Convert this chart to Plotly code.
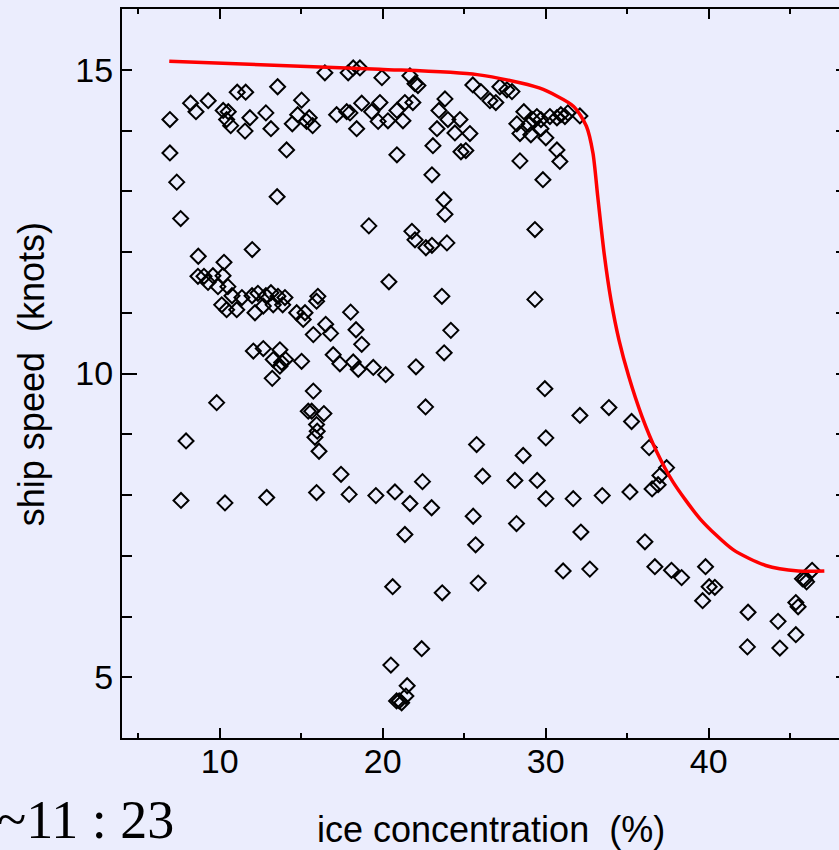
import plotly.graph_objects as go

# Observed ship speed vs. ice concentration
ice_pct = [
    6.94, 6.94, 7.36, 7.60, 8.21, 8.54, 9.29, 10.21, 10.52, 10.42, 10.67, 11.07, 11.59, 11.55,
    11.85, 12.83, 13.14, 13.55, 14.10, 13.52, 14.45, 14.78, 15.02, 15.33, 15.49, 15.70, 16.45,
    17.17, 17.79, 17.99, 17.88, 18.19, 18.60, 18.40, 18.71, 19.32, 19.72, 19.83, 19.95,
    8.68, 10.26, 11.99,
    10.12, 10.42, 11.04, 12.16, 12.67, 13.28, 13.86, 14.72, 15.23, 15.12, 15.94, 15.74, 16.50,
    16.80, 18.03, 18.36, 18.71, 12.06, 12.67, 13.69, 13.28, 13.80, 14.04, 13.69, 13.22, 15.02,
    16.96, 17.37, 18.19, 18.50, 19.42, 20.18, 15.74, 9.81, 15.64, 15.43, 16.39, 15.94, 15.98,
    15.84, 16.09, 7.93, 17.44, 7.62, 10.32, 12.88, 15.94, 17.94, 19.58, 20.75, 20.61,
    23.65, 25.86, 22.39, 20.50, 21.50, 21.42, 21.01, 21.16, 20.85,
    23.77, 22.04, 29.95, 22.63, 25.76, 30.01, 28.62, 32.10, 33.88, 35.27, 36.35, 37.42, 37.01,
    36.90, 36.53, 22.44, 21.67, 23.00, 26.13, 28.11, 29.48, 30.01, 31.69, 33.47, 35.17, 21.36,
    25.55, 28.21, 25.70, 32.16, 36.09, 31.07, 32.71, 36.70, 37.72, 38.34, 39.81, 40.03, 40.38,
    39.63, 42.42, 44.26, 45.35, 45.49, 45.35, 42.38, 44.37, 46.35, 45.90, 46.01, 45.76,
    21.67, 21.98, 22.16, 20.32, 20.87, 21.24, 21.36, 21.85, 23.33, 23.45, 23.82, 24.00, 24.43,
    24.74, 23.08, 24.80, 25.10, 25.35, 25.53, 26.02, 26.58, 26.94, 27.19, 27.62, 27.93, 28.23,
    28.42, 28.66, 28.97, 29.09, 29.21, 29.46, 29.71, 29.71, 30.01, 30.26, 30.69, 30.93, 31.18,
    31.36, 32.10, 30.69, 30.87, 29.83, 28.42,
    23.02, 23.75, 23.82, 23.94, 21.79, 21.98, 22.65, 23.02, 19.15, 20.38, 29.34, 29.34, 23.63,
    24.18, 20.87,
    8.66, 9.03, 9.28, 9.58, 9.89, 10.20, 10.50, 10.75, 11.36, 11.98, 12.34, 12.83, 13.14, 13.57,
    14.00, 16.02,
]
speed_kn = [
    14.18, 13.63, 13.15, 12.55, 14.45, 14.31, 14.49, 14.33, 14.31, 14.18, 14.08, 14.63, 14.63, 13.99,
    14.21, 14.29, 14.03, 14.72, 13.68, 12.91, 14.11, 14.26, 14.50, 14.15, 14.21, 14.08, 14.95,
    14.26, 14.31, 14.29, 14.95, 15.03, 15.03, 14.03, 14.45, 14.31, 14.15, 14.46, 14.87,
    11.93, 11.83, 12.04,
    11.13, 11.05, 11.05, 11.00, 11.11, 11.13, 11.13, 11.00, 11.00, 10.89, 11.19, 10.64, 10.81,
    10.66, 11.01, 10.72, 10.48, 10.37, 10.41, 10.39, 10.23, 10.18, 10.23, 10.12, 9.92, 10.20,
    10.31, 10.16, 10.19, 10.07, 10.10, 9.98, 9.71, 9.52, 9.38, 9.38, 9.34, 9.16, 9.05,
    8.95, 8.72, 8.89, 8.34, 7.91, 7.87, 7.96, 8.04, 8.01, 7.99, 8.05, 6.49,
    6.39, 6.55, 5.47, 5.20, 4.86, 4.69, 4.61, 4.58, 4.61,
    10.34, 10.11, 9.75, 9.45, 8.83, 8.94, 8.65, 9.31, 9.44, 9.21, 8.78, 8.45, 8.32,
    8.17, 8.10, 8.22, 7.86, 7.79, 8.31, 8.24, 8.24, 7.94, 7.94, 7.99, 8.05, 7.35,
    7.65, 7.53, 7.18, 7.39, 7.23, 6.75, 6.78, 6.82, 6.76, 6.64, 6.82, 6.49, 6.48,
    6.26, 6.07, 5.92, 6.23, 6.16, 5.70, 5.50, 5.48, 6.76, 6.61, 6.57, 6.62,
    14.90, 14.77, 14.74, 14.16, 14.33, 14.16, 14.46, 14.46, 14.03, 14.33, 14.52, 14.18, 13.96,
    14.18, 13.75, 13.65, 13.67, 13.95, 14.75, 14.64, 14.49, 14.46, 14.72, 14.67, 14.64, 14.11,
    13.95, 14.31, 14.10, 13.93, 14.18, 14.23, 14.18, 14.03, 13.88, 14.23, 14.21, 14.26, 14.23,
    14.29, 14.24, 13.68, 13.49, 13.19, 13.50,
    13.27, 12.86, 12.62, 12.15, 12.34, 12.20, 12.07, 12.11, 12.43, 11.51, 12.37, 11.22, 11.27,
    10.71, 13.60,
    11.60, 11.60, 11.50, 11.61, 11.43, 11.61, 11.43, 11.28, 11.25, 11.28, 11.32, 11.28, 11.33, 11.27,
    11.25, 11.27,
]

# Upper-envelope speed curve
curve_ice = [6.9, 19.8, 25.8, 29.6, 31.7, 32.5, 32.9, 33.2, 33.6, 34.0, 34.5, 35.1,
             35.9, 36.8, 37.8, 39.5, 41.5, 43.5, 45.5, 47.1]
curve_speed = [15.14, 15.01, 14.92, 14.70, 14.40, 14.07, 13.63, 12.90, 11.95, 11.22, 10.55,
               9.95, 9.30, 8.72, 8.22, 7.60, 7.10, 6.84, 6.75, 6.75]

x_range = [4, 48]
y_range = [4, 16]
x_labels = [10, 20, 30, 40]
y_labels = [5, 10, 15]

BG = "#ebedfd"
SANS = "Liberation Sans, Arial, sans-serif"

fig = go.Figure()
fig.add_trace(go.Scatter(
    x=ice_pct, y=speed_kn, mode="markers",
    marker=dict(symbol="diamond-open", size=11.5, color="black", line=dict(width=2, color="black")),
    showlegend=False, hoverinfo="skip",
))
fig.add_trace(go.Scatter(
    x=curve_ice, y=curve_speed, mode="lines",
    line=dict(color="#ff0000", width=3.5, shape="spline", smoothing=0.7),
    showlegend=False, hoverinfo="skip",
))
# helper traces to attach the extra tick axes
fig.add_trace(go.Scatter(x=[None], y=[None], yaxis="y2", showlegend=False))
fig.add_trace(go.Scatter(x=[None], y=[None], yaxis="y3", showlegend=False))

fig.update_layout(
    width=839, height=850,
    margin=dict(l=122, r=0, t=9, b=112),
    paper_bgcolor=BG, plot_bgcolor=BG,
    font=dict(family=SANS, color="black"),
    xaxis=dict(
        range=x_range, tickvals=x_labels, ticks="inside", ticklen=10, tickwidth=2,
        tickcolor="black", showline=True, linecolor="black", linewidth=2, mirror="ticks",
        showgrid=False, zeroline=False, tickfont=dict(size=34, family=SANS),
        ticklabelstandoff=-8,
        minor=dict(dtick=5, tick0=0, ticks="inside", ticklen=5, tickwidth=2, tickcolor="black",
                   showgrid=False),
    ),
    yaxis=dict(
        range=y_range, tickvals=y_labels, ticks="inside", ticklen=10, tickwidth=2,
        tickcolor="black", showline=True, linecolor="black", linewidth=2, mirror=False,
        showgrid=False, zeroline=False, tickfont=dict(size=34, family=SANS),
        minor=dict(dtick=1, tick0=0, ticks="inside", ticklen=10, tickwidth=2, tickcolor="black",
                   showgrid=False),
    ),
    yaxis2=dict(
        range=y_range, overlaying="y", side="right", tickvals=y_labels, ticks="inside",
        ticklen=3, tickwidth=2, tickcolor="black", showticklabels=False, showline=False,
        showgrid=False, zeroline=False,
        minor=dict(dtick=1, tick0=0, ticks="inside", ticklen=3, tickwidth=2, tickcolor="black",
                   showgrid=False),
    ),
    yaxis3=dict(
        range=y_range, overlaying="y", side="left", tickvals=[10], ticks="inside",
        ticklen=15, tickwidth=2, tickcolor="black", showticklabels=False, showline=False,
        showgrid=False, zeroline=False,
    ),
    annotations=[
        dict(text="ship speed  (knots)", xref="paper", yref="paper", x=-0.127, y=0.499,
             xanchor="center", yanchor="middle", textangle=-90, showarrow=False,
             font=dict(size=36, family=SANS)),
        dict(text="ice concentration  (%)", xref="paper", yref="paper", x=0.515, y=-0.126,
             xanchor="center", yanchor="middle", showarrow=False,
             font=dict(size=36, family=SANS)),
        dict(text="~11 : 23", xref="paper", yref="paper", x=0.075, y=-0.112,
             xanchor="right", yanchor="middle", showarrow=False,
             font=dict(size=54, family="Liberation Serif, DejaVu Serif, serif")),
    ],
)

fig.write_html("out.html")
